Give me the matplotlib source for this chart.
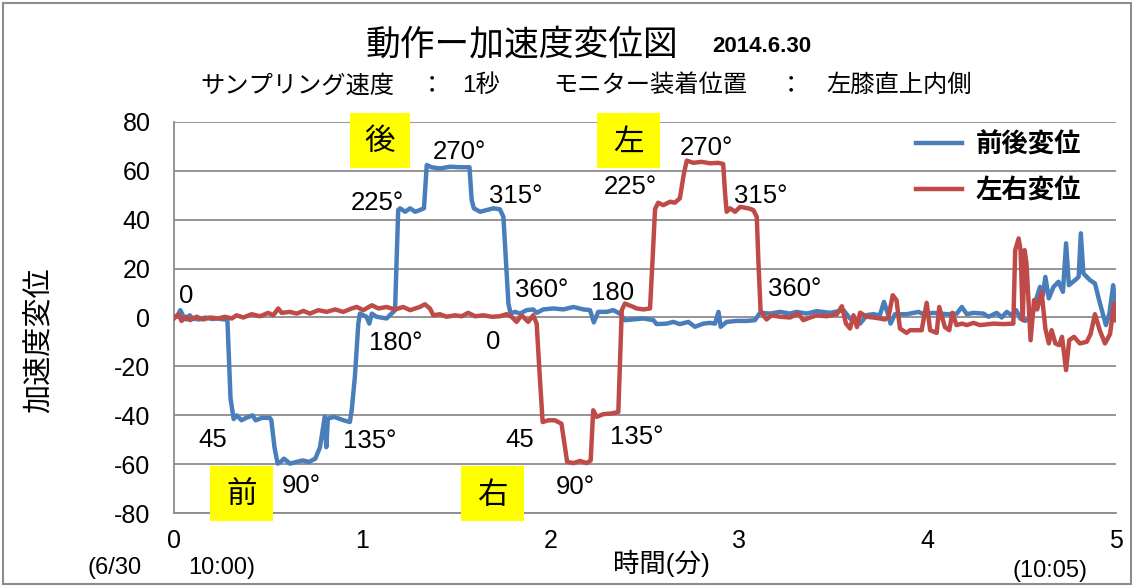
import matplotlib.pyplot as plt
from matplotlib.patches import Rectangle
import numpy as np

plt.rcParams['font.family'] = ['Liberation Sans', 'Noto Sans CJK JP', 'DejaVu Sans']
plt.rcParams['axes.unicode_minus'] = False

# 時間 (秒) と 前後変位
t_fb = [0, 1, 2, 3, 4, 5, 6, 8, 10, 12, 14, 16, 17, 18, 19, 20, 21.5, 23, 25, 26,
        28, 30.5, 31, 32, 33, 34, 35, 37, 39, 41, 43, 45, 46.5, 48, 48.5, 49, 51, 54,
        56, 56.6, 57.6, 58.7, 59.2, 61.3, 62.2, 63, 64.5, 67.7, 69.3, 70.4, 71.4, 72,
        73.6, 75.2, 76.8, 78.3, 79.6, 80.5, 82, 84.7, 87.9, 91.1, 94.1, 94.8, 95.5,
        97.5, 99.6, 101.7, 103.8, 104.9, 105.7, 106.5, 107.2, 108.6, 110.2, 112.3,
        114.4, 115.5, 117.6, 120.8, 124, 127.2, 130.4, 132.5, 133.7, 135.1, 137.8,
        139.9, 142, 143.6, 146.3, 149.5, 152.7, 153.7, 156.9, 159, 161.1, 163.8,
        165.9, 168.6, 170.7, 172.3, 173.4, 174.1, 176, 179.2, 182.4, 185, 186.6,
        189.8, 193, 196.2, 198.3, 201.5, 204.7, 209, 213.2, 215.3, 218.5, 220.7,
        222.7, 224.8, 226.1, 227.5, 228.2, 229.6, 233.4, 237.1, 238.7, 241.8, 246.1,
        249.3, 250.9, 252.5, 254.6, 257.8, 259.4, 262, 263.6, 265.2, 266.8, 268.2,
        269.5, 271.1, 273.2, 274.8, 275.8, 276.7, 277.5, 278.6, 280.1, 281.7, 283.1,
        284.1, 285, 287, 288.1, 288.8, 289.6, 291.7, 293.3, 294.9, 296.8, 297.9,
        299.1, 300]
v_fb = [0.5, 0.3, 3.0, 0.5, -0.8, 0.9, -0.4, -0.8, 0.0, -0.6, -0.4, -0.8, -0.8, -33,
        -41.5, -40.0, -42, -41, -40, -42, -41, -41, -42, -53, -59.7, -59, -57.7,
        -59.7, -59, -58.4, -59, -57.7, -53, -40.6, -53, -41.3, -40.6, -42, -42.7,
        -37.9, -24.3, -2.5, 1.6, 0.3, -2.5, 1.6, 0.3, -0.4, 1.6, 3.0, 43.9, 44.6,
        43.2, 44.6, 43.2, 43.9, 44.6, 62.3, 61.4, 60.9, 61.6, 61.4, 61.4, 48, 44.6,
        43.2, 43.9, 44.6, 44.2, 41.1, 23.4, 5.7, 1.6, 2.3, 1.6, 3.0, 3.3, 1.9, 3.3,
        3.7, 3.3, 4.3, 3.3, 3.0, -2.0, 2.3, 2.3, 3.0, 1.6, -1.1, -0.8, -0.4, -1.1,
        -2.7, -2.5, -1.8, -2.7, -1.8, -3.8, -2.5, -2.2, -2.5, 2.3, -3.8, -1.8, -1.4,
        -1.4, -1.1, 1.9, 1.6, 2.3, 1.6, 2.3, 1.6, 2.6, 1.9, 3.0, -0.4, -2.5, 1.0,
        1.35, 0.9, 6.4, 0.9, -2.5, 1.35, 1.35, 2.3, 1.35, 1.9, 1.35, 1.6, 4.3, 1.35,
        1.9, 1.6, 0.3, 1.9, 0.0, 2.3, 0.9, 3.0, -0.4, -1.4, 0.3, 8.4, 12.5, 9.1,
        16.6, 7.8, 12.5, 14.6, 10.5, 30.3, 13.2, 15.3, 16.6, 34.4, 18.0, 15.3, 13.9,
        5.7, -3.1, 1.6, 13.2, 3.7]

# 時間 (秒) と 左右変位
t_lr = [0, 1.4, 2.4, 4, 5.1, 7.2, 9.3, 11.5, 14.1, 16.2, 18.4, 19.9, 22.1, 24.7,
        27.4, 30, 31.6, 33.2, 34.3, 36.9, 39.1, 41.2, 43.3, 46, 48.6, 51.3, 53.9,
        56.6, 58.2, 60.3, 63, 65.1, 67.7, 70.4, 73, 75.2, 78.3, 79.9, 81.5, 82.6,
        84.7, 86.8, 89.5, 91.6, 93.7, 95.9, 98.5, 101.2, 103.8, 105.9, 107.5, 109.1,
        110.7, 112.8, 114.4, 115.5, 116.5, 117.4, 119.2, 121.3, 123.4, 124.5, 125.2,
        127.2, 129.3, 131.4, 132.7, 133.5, 134.6, 136.7, 139.4, 141.5, 142.6, 143.6,
        146.3, 147.3, 149.5, 151.6, 152.4, 153.2, 154.2, 155.8, 158, 159.5, 161.1,
        162.4, 163.3, 165.4, 168, 170.7, 173.3, 174.9, 175.5, 176, 177.1, 178.7,
        180.3, 182.9, 184.5, 185.6, 186.1, 186.8, 187.7, 188.7, 190.3, 193, 196.2,
        198.8, 200.4, 202.6, 204.7, 207.9, 211.1, 212.7, 214, 215.3, 216.4, 217.5,
        218.5, 220.6, 222.7, 224.8, 226.4, 227.5, 228.9, 230.1, 231.2, 233.3, 234.4,
        238.1, 239.7, 240.8, 242.9, 243.7, 245.5, 246.9, 247.9, 249.2, 250.9, 252.5,
        254.6, 256.7, 261, 264.2, 267.3, 267.9, 269, 269.6, 270.3, 270.9, 271.5,
        272.8, 273.9, 274.9, 276.3, 277.5, 278.6, 279.5, 280.7, 281.9, 282.8, 284.1,
        285.1, 286.6, 288.5, 290.7, 291.9, 293.3, 294.9, 296.5, 298.1, 299.4, 300]
v_lr = [-0.4, 1.35, -1.4, 0.3, -1.1, 0.3, -0.8, 0.0, -0.4, 0.3, -0.4, 0.9, 0.0, 1.35,
        0.5, 1.9, 0.9, 3.7, 1.9, 2.3, 1.6, 2.7, 1.6, 3.0, 2.3, 3.3, 2.3, 3.7, 4.3,
        3.0, 5.0, 3.7, 4.3, 3.3, 4.3, 3.0, 4.3, 5.4, 3.7, 0.9, 1.35, 0.3, 0.9, 0.5,
        1.9, 0.5, 0.9, 0.3, 0.5, 1.35, 0.3, -1.8, 0.9, -1.8, 0.9, -2.5, -24.3, -42.7,
        -42.0, -42.0, -43.4, -53, -59, -59.5, -58.6, -59.5, -58.4, -37.9, -40.6,
        -39.5, -39.2, -38.6, 3.0, 5.7, 4.3, 3.7, 3.3, 3.7, 23.4, 44.3, 46.9, 45.9,
        47.3, 46.9, 48.7, 58.9, 64.1, 63.2, 63.6, 63.0, 63.2, 62.7, 50.7, 43.2, 44.6,
        43.2, 45.2, 44.6, 43.9, 41.1, 23.4, 3.0, 0.9, -0.8, 0.9, 0.3, 0.0, 1.6, -1.1,
        0.0, 0.9, 0.5, 1.35, 4.6, -2.5, -4.5, 0.9, -3.9, 2.0, 0.3, 0.0, -0.4, -0.8,
        0.0, 9.1, 7.1, -4.5, -6.3, -5.2, -5.2, 6.0, -5.2, -6.3, 4.3, -3.9, -5.2, 1.9,
        -3.1, -2.5, -3.1, -2.2, -3.1, -2.5, -2.7, -2.5, 27.5, 32.3, 27.5, -1.1, 27.5,
        22.0, -9.3, 7.1, 3.3, 10.5, -4.5, -10.6, -5.2, -10.6, -11.3, -7.9, -21.5,
        -9.3, -7.9, -10.6, -9.9, -6.8, 1.35, -5.5, -10.6, -6.8, 5.7, -1.1]

# 角度ラベル (分, 変位)
ann_text = ['0', '225°', '270°', '315°', '180°', '45', '135°', '90°', '360°', '0',
            '180', '45', '135°', '90°', '225°', '270°', '315°', '360°']
ann_x = [0.064, 1.077, 1.513, 1.815, 1.178, 0.207, 1.040, 0.674, 1.953, 1.693,
         2.330, 1.837, 2.458, 2.128, 2.420, 2.824, 3.116, 3.296]
ann_y = [8.7, 46.8, 67.6, 49.6, -10.5, -50.2, -50.6, -69.0, 11.2, -10.1,
         9.9, -50.2, -49.0, -69.4, 53.3, 69.3, 49.6, 11.6]

W, H = 1134, 587
fig = plt.figure(figsize=(W / 100, H / 100), dpi=100)
fig.patches.append(Rectangle((3 / W, 3 / H), 1 - 6 / W, 1 - 6 / H, transform=fig.transFigure,
                             fill=False, edgecolor='#8c8c8c', lw=1.5))

ax = fig.add_axes([174 / W, 1 - 513.3 / H, 942 / W, 391.6 / H])
ax.plot(np.array(t_fb) / 60, v_fb, color='#4A7EBB', lw=3.2, label='前後変位',
        solid_joinstyle='round', zorder=3)
ax.plot(np.array(t_lr) / 60, v_lr, color='#BE4B48', lw=3.2, label='左右変位',
        solid_joinstyle='round', zorder=4)

ax.set_xlim(0, 5)
ax.set_ylim(-80, 80)
ax.set_xticks(range(6))
ax.set_yticks(range(-80, 81, 20))
ax.grid(axis='y', color='#8c8c8c', lw=1.3)
ax.set_axisbelow(True)
for s in ['top', 'right']:
    ax.spines[s].set_visible(False)
ax.spines['left'].set_color('#8c8c8c')
ax.spines['bottom'].set_color('#8c8c8c')
ax.spines['left'].set_linewidth(1.3)
ax.spines['bottom'].set_linewidth(1.3)
ax.tick_params(length=0, labelsize=18)
ax.tick_params(axis='y', pad=17)
ax.tick_params(axis='x', pad=11)

for s, x, y in zip(ann_text, ann_x, ann_y):
    ax.text(x, y, s, fontsize=18.5, ha='center', va='center', zorder=5)

ax.legend(loc='upper left', bbox_to_anchor=(916 / W, 1 - 132 / H), bbox_transform=fig.transFigure,
          frameon=False, prop={'size': 19, 'weight': 'bold'}, handlelength=1.75,
          handletextpad=0.5, labelspacing=0.8, borderpad=0, borderaxespad=0)

# 黄色のラベル
boxes = [('後', 350, 113, 60, 55), ('前', 210, 466, 63, 55), ('右', 461, 466, 63, 55),
         ('左', 597, 113, 63, 55)]
for ch, bx, by, bw, bh in boxes:
    fig.patches.append(Rectangle((bx / W, 1 - (by + bh) / H), bw / W, bh / H,
                                 transform=fig.transFigure, facecolor='#FFFF00',
                                 edgecolor='none', zorder=6))
    fig.text((bx + bw / 2) / W, 1 - (by + bh / 2 + 2) / H, ch, fontsize=22,
             ha='center', va='center', zorder=7)

fig.text(522 / W, 1 - 45 / H, '動作ー加速度変位図', fontsize=25, ha='center', va='center')
fig.text(712 / W, 1 - 47 / H, '2014.6.30', fontsize=16, fontweight='bold', ha='left', va='center')
sub = [('サンプリング速度', 200), ('：', 420), ('1秒', 462), ('モニター装着位置', 553),
       ('：', 779), ('左膝直上内側', 826)]
for s, x in sub:
    fig.text(x / W, 1 - 86 / H, s, fontsize=17.5, ha='left', va='center')

fig.text(40 / W, 1 - 340 / H, '加速度変位', fontsize=21, rotation=90, ha='center', va='center')
fig.text(661 / W, 1 - 563 / H, '時間(分)', fontsize=19, ha='center', va='center')
fig.text(115 / W, 1 - 568 / H, '(6/30', fontsize=17, ha='center', va='center')
fig.text(222 / W, 1 - 568 / H, '10:00)', fontsize=17, ha='center', va='center')
fig.text(1050 / W, 1 - 571 / H, '(10:05)', fontsize=17, ha='center', va='center')

fig.savefig('out.png', dpi=100)
